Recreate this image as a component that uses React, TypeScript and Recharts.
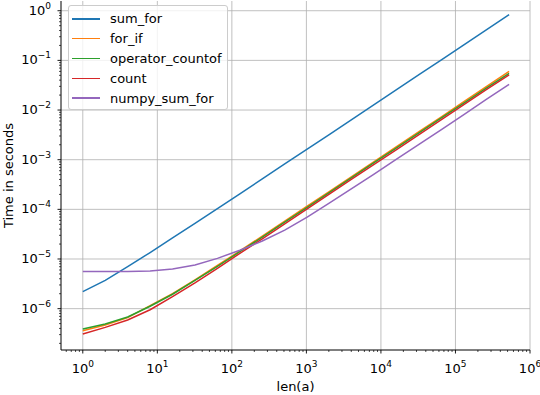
import React from 'react';
import { LineChart, Line, XAxis, YAxis, CartesianGrid, Legend } from 'recharts';

// len(a): powers of two
const lengths = [1, 2, 4, 8, 16, 32, 64, 128, 256, 512, 1024, 2048, 4096, 8192, 16384, 32768, 65536, 131072, 262144, 524288];

// time in seconds
const sumFor = [2.2e-6, 3.7e-6, 7e-6, 1.35e-5, 2.65e-5, 5.2e-5, 1.03e-4, 2.05e-4, 4.1e-4, 8.2e-4, 1.63e-3, 3.25e-3, 6.5e-3, 1.3e-2, 2.6e-2, 5.2e-2, 0.104, 0.208, 0.415, 0.83];
const forIf = [3.6e-7, 4.7e-7, 6.6e-7, 1.15e-6, 2e-6, 3.8e-6, 7.4e-6, 1.45e-5, 2.9e-5, 5.8e-5, 1.16e-4, 2.3e-4, 4.6e-4, 9.3e-4, 1.86e-3, 3.7e-3, 7.4e-3, 1.49e-2, 2.98e-2, 6.0e-2];
const operatorCountof = [3.9e-7, 4.9e-7, 6.8e-7, 1.12e-6, 1.95e-6, 3.7e-6, 7.1e-6, 1.4e-5, 2.75e-5, 5.5e-5, 1.1e-4, 2.2e-4, 4.4e-4, 8.8e-4, 1.75e-3, 3.5e-3, 7e-3, 1.4e-2, 2.8e-2, 5.5e-2];
const countTimes = [3.1e-7, 4.2e-7, 5.9e-7, 9.5e-7, 1.75e-6, 3.3e-6, 6.5e-6, 1.3e-5, 2.55e-5, 5.1e-5, 1.02e-4, 2.05e-4, 4.1e-4, 8.1e-4, 1.62e-3, 3.25e-3, 6.5e-3, 1.3e-2, 2.6e-2, 5.1e-2];
const numpySumFor = [5.6e-6, 5.6e-6, 5.6e-6, 5.7e-6, 6.3e-6, 7.6e-6, 1.03e-5, 1.5e-5, 2.3e-5, 3.8e-5, 7e-5, 1.35e-4, 2.65e-4, 5.2e-4, 1.04e-3, 2.07e-3, 4.1e-3, 8.2e-3, 1.65e-2, 3.3e-2];

const seriesNames = ['sum_for', 'for_if', 'operator_countof', 'count', 'numpy_sum_for'];
const seriesColors = ['#1f77b4', '#ff7f0e', '#2ca02c', '#d62728', '#9467bd'];
const seriesValues = [sumFor, forIf, operatorCountof, countTimes, numpySumFor];

const xMajorTicks = [1, 10, 100, 1000, 10000, 100000, 1000000];
const yMajorTicks = [1e-6, 1e-5, 1e-4, 1e-3, 1e-2, 1e-1, 1];
const xDomain: [number, number] = [0.51, 1000000];
const yDomain: [number, number] = [1.47e-7, 1.57];

// minor ticks at 2..9 x each decade, kept inside the domain
const minorTicks = (decades: number[], domain: [number, number]) => {
  const out: number[] = [];
  decades.forEach((d) => {
    for (let k = 2; k <= 9; k++) {
      const v = d * k;
      if (v >= domain[0] && v <= domain[1]) out.push(v);
    }
  });
  return out;
};
const xTicks = [...xMajorTicks, ...minorTicks([0.1, 1, 10, 100, 1000, 10000, 100000], xDomain)];
const yTicks = [...yMajorTicks, ...minorTicks([1e-7, 1e-6, 1e-5, 1e-4, 1e-3, 1e-2, 1e-1], yDomain)];

const data = lengths.map((n, i) => {
  const row: Record<string, number> = { n };
  seriesNames.forEach((name, s) => {
    row[name] = seriesValues[s][i];
  });
  return row;
});

const FONT = 'DejaVu Sans';

const isMajor = (list: number[], v: number) => list.some((m) => Math.abs(m - v) / m < 1e-9);
const expLabel = (v: number) => {
  const e = Math.round(Math.log10(v));
  return e < 0 ? '\u2212' + -e : String(e);
};

const XTick = (props: any) => {
  const { x, y, payload } = props;
  const major = isMajor(xMajorTicks, payload.value);
  return (
    <g>
      <line x1={x} x2={x} y1={y} y2={y + (major ? 3.5 : 2)} stroke="#000" strokeWidth={major ? 0.9 : 0.7} />
      {major && (
        <text x={x} y={y + 23} textAnchor="middle" fontSize={13} fill="#000" fontFamily={FONT}>
          <tspan>10</tspan>
          <tspan dy={-6} fontSize={9}>{expLabel(payload.value)}</tspan>
        </text>
      )}
    </g>
  );
};

const YTick = (props: any) => {
  const { x, y, payload } = props;
  const major = isMajor(yMajorTicks, payload.value);
  return (
    <g>
      <line x1={x} x2={x - (major ? 3.5 : 2)} y1={y} y2={y} stroke="#000" strokeWidth={major ? 0.9 : 0.7} />
      {major && (
        <text x={x - 10} y={y + 4} textAnchor="end" fontSize={13} fill="#000" fontFamily={FONT}>
          <tspan>10</tspan>
          <tspan dy={-6} fontSize={9}>{expLabel(payload.value)}</tspan>
        </text>
      )}
    </g>
  );
};

// keep the legend in plotting order
const LegendBox = () => (
  <div
    style={{
      width: 160,
      height: 105,
      boxSizing: 'border-box',
      paddingTop: 3,
      background: 'rgba(255,255,255,0.8)',
      border: '1px solid #cccccc',
      borderRadius: 3,
      fontFamily: FONT,
      fontSize: 13,
      color: '#000',
    }}
  >
    {seriesNames.map((name, i) => (
      <div key={name} style={{ display: 'flex', alignItems: 'center', height: 19.8 }}>
        <span style={{ display: 'inline-block', width: 28, height: 1.5, marginLeft: 3, marginRight: 10, background: seriesColors[i] }} />
        <span style={{ lineHeight: '15px' }}>{name}</span>
      </div>
    ))}
  </div>
);

const YLabel = (props: any) => {
  const { viewBox } = props;
  const cy = viewBox.y + viewBox.height / 2;
  return (
    <text x={13} y={cy} textAnchor="middle" fontSize={13} fontFamily={FONT} fill="#000" transform={`rotate(-90, 13, ${cy})`}>
      Time in seconds
    </text>
  );
};

const XLabel = (props: any) => {
  const { viewBox } = props;
  const cx = viewBox.x + viewBox.width / 2;
  return (
    <text x={cx} y={391} textAnchor="middle" fontSize={13} fontFamily={FONT} fill="#000">
      len(a)
    </text>
  );
};

export default function App() {
  return (
    <div style={{ position: 'fixed', left: 0, top: 0, width: 540, height: 395, background: '#fff' }}>
      <LineChart width={540} height={395} data={data} margin={{ top: 1, right: 10, bottom: 0, left: 0 }}>
        <CartesianGrid stroke="#b0b0b0" strokeWidth={0.8} horizontalValues={yMajorTicks} verticalValues={xMajorTicks} />
        <XAxis
          dataKey="n"
          type="number"
          scale="log"
          domain={xDomain}
          allowDataOverflow
          ticks={xTicks}
          interval={0}
          tick={<XTick />}
          tickLine={false}
          tickSize={0}
          tickMargin={0}
          height={45}
          axisLine={{ stroke: '#000', strokeWidth: 1 }}
          label={<XLabel />}
        />
        <YAxis
          type="number"
          scale="log"
          domain={yDomain}
          allowDataOverflow
          ticks={yTicks}
          interval={0}
          tick={<YTick />}
          tickLine={false}
          tickSize={0}
          tickMargin={0}
          width={61}
          axisLine={{ stroke: '#000', strokeWidth: 1 }}
          label={<YLabel />}
        />
        <XAxis
          xAxisId="top"
          orientation="top"
          type="number"
          scale="log"
          domain={xDomain}
          allowDataOverflow
          tick={false}
          tickLine={false}
          height={0}
          axisLine={{ stroke: '#000', strokeWidth: 1 }}
        />
        <YAxis
          yAxisId="right"
          orientation="right"
          type="number"
          scale="log"
          domain={yDomain}
          allowDataOverflow
          tick={false}
          tickLine={false}
          width={0}
          axisLine={{ stroke: '#000', strokeWidth: 1 }}
        />
        <Legend
          layout="horizontal"
          verticalAlign="middle"
          align="center"
          wrapperStyle={{ left: 68, top: 5, width: 160, height: 105 }}
          content={<LegendBox />}
        />
        {seriesNames.map((name, i) => (
          <Line
            key={name}
            type="linear"
            dataKey={name}
            name={name}
            stroke={seriesColors[i]}
            strokeWidth={1.5}
            dot={false}
            activeDot={false}
            isAnimationActive={false}
          />
        ))}
      </LineChart>
    </div>
  );
}
